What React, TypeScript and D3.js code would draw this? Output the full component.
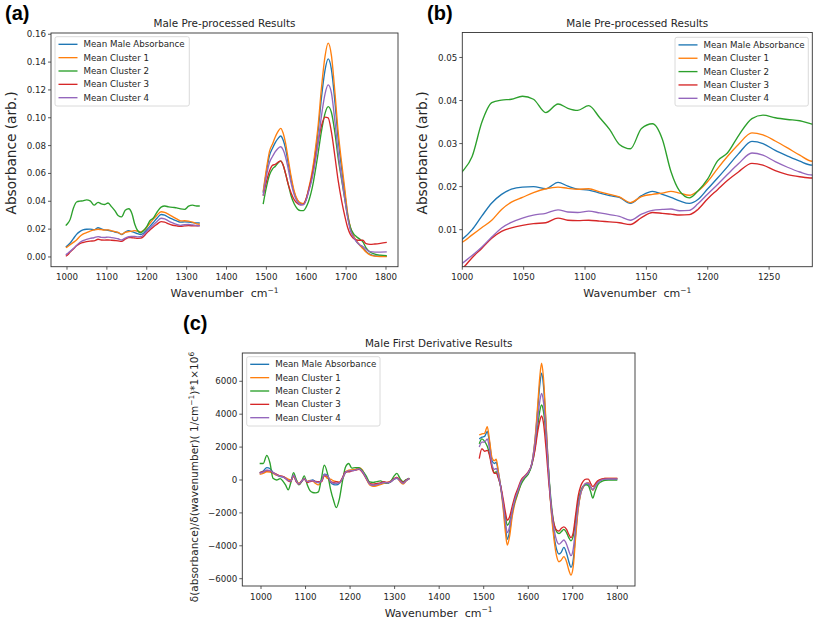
import React from 'react';
import * as d3 from 'd3';

const SERIES = ['Mean Male Absorbance', 'Mean Cluster 1', 'Mean Cluster 2', 'Mean Cluster 3', 'Mean Cluster 4'];
const COLORS = ['#1f77b4', '#ff7f0e', '#2ca02c', '#d62728', '#9467bd'];

// ---------- Pre-processed absorbance, region 1 (fingerprint) ----------
const absWnLow = [997, 1000, 1008, 1016, 1024, 1032, 1040, 1049, 1058, 1068, 1078, 1086, 1094, 1103, 1112, 1120, 1128, 1137, 1146, 1155, 1163, 1170, 1177, 1185, 1192, 1200, 1208, 1216, 1225, 1236, 1245, 1255, 1265, 1275, 1285, 1295, 1305, 1315, 1325, 1333];
const absMeanLow = [0.0072, 0.0078, 0.0100, 0.0132, 0.0162, 0.0182, 0.0194, 0.0199, 0.0200, 0.0195, 0.0210, 0.0201, 0.0194, 0.0192, 0.0185, 0.0179, 0.0175, 0.0161, 0.0179, 0.0189, 0.0182, 0.0175, 0.0167, 0.0161, 0.0170, 0.0195, 0.0220, 0.0246, 0.0276, 0.0305, 0.0300, 0.0284, 0.0271, 0.0259, 0.0250, 0.0252, 0.0251, 0.0247, 0.0245, 0.0244];
const absC1Low = [0.0068, 0.0071, 0.0088, 0.0105, 0.0122, 0.0147, 0.0164, 0.0175, 0.0186, 0.0195, 0.0199, 0.0196, 0.0194, 0.0195, 0.0188, 0.0182, 0.0176, 0.0163, 0.0177, 0.0182, 0.0185, 0.0189, 0.0185, 0.0180, 0.0190, 0.0212, 0.0242, 0.0270, 0.0298, 0.0325, 0.0320, 0.0306, 0.0290, 0.0273, 0.0259, 0.0260, 0.0258, 0.0250, 0.0238, 0.0235];
const absC2Low = [0.0225, 0.0235, 0.0270, 0.0350, 0.0395, 0.0401, 0.0403, 0.0410, 0.0403, 0.0372, 0.0392, 0.0382, 0.0377, 0.0388, 0.0360, 0.0333, 0.0298, 0.0288, 0.0335, 0.0346, 0.0310, 0.0235, 0.0190, 0.0174, 0.0190, 0.0218, 0.0260, 0.0278, 0.0318, 0.0358, 0.0366, 0.0360, 0.0356, 0.0353, 0.0345, 0.0342, 0.0365, 0.0372, 0.0366, 0.0366];
const absC3Low = [0.0005, 0.0010, 0.0035, 0.0057, 0.0080, 0.0096, 0.0104, 0.0110, 0.0114, 0.0116, 0.0127, 0.0122, 0.0121, 0.0122, 0.0120, 0.0118, 0.0116, 0.0112, 0.0128, 0.0140, 0.0138, 0.0136, 0.0134, 0.0135, 0.0147, 0.0172, 0.0193, 0.0214, 0.0234, 0.0254, 0.0250, 0.0237, 0.0228, 0.0223, 0.0220, 0.0223, 0.0225, 0.0224, 0.0223, 0.0225];
const absC4Low = [0.0015, 0.0022, 0.0040, 0.0060, 0.0083, 0.0104, 0.0117, 0.0127, 0.0134, 0.0138, 0.0146, 0.0141, 0.0140, 0.0143, 0.0139, 0.0135, 0.0131, 0.0122, 0.0136, 0.0145, 0.0147, 0.0148, 0.0144, 0.0145, 0.0160, 0.0183, 0.0205, 0.0228, 0.0253, 0.0278, 0.0273, 0.0258, 0.0245, 0.0234, 0.0227, 0.0232, 0.0233, 0.0230, 0.0226, 0.0224];

// ---------- Pre-processed absorbance, region 2 (amide) ----------
const absWnHigh = [1492, 1500, 1508, 1516, 1522, 1529, 1536, 1542, 1548, 1555, 1562, 1570, 1578, 1586, 1593, 1600, 1606, 1612, 1618, 1624, 1630, 1638, 1647, 1655, 1663, 1672, 1680, 1689, 1697, 1704, 1711, 1718, 1726, 1734, 1742, 1750, 1760, 1772, 1786, 1802];
const absMeanHigh = [0.046, 0.061, 0.073, 0.0785, 0.082, 0.085, 0.0869, 0.084, 0.078, 0.067, 0.056, 0.046, 0.0405, 0.0385, 0.0383, 0.0415, 0.048, 0.055, 0.065, 0.077, 0.091, 0.114, 0.134, 0.1423, 0.135, 0.111, 0.085, 0.063, 0.045, 0.030, 0.020, 0.015, 0.011, 0.0085, 0.0065, 0.004, 0.0018, 0.0008, 0.0005, 0.0005];
const absC1High = [0.047, 0.063, 0.076, 0.0816, 0.086, 0.090, 0.0924, 0.089, 0.082, 0.070, 0.058, 0.047, 0.041, 0.0388, 0.0384, 0.042, 0.049, 0.057, 0.067, 0.080, 0.095, 0.121, 0.144, 0.1536, 0.145, 0.118, 0.090, 0.067, 0.048, 0.031, 0.021, 0.0155, 0.0115, 0.0085, 0.006, 0.0035, 0.0015, 0.0006, 0.0003, 0.0002];
const absC2High = [0.038, 0.050, 0.059, 0.0635, 0.065, 0.0675, 0.0689, 0.066, 0.060, 0.052, 0.044, 0.038, 0.0345, 0.0333, 0.0333, 0.036, 0.040, 0.046, 0.054, 0.064, 0.075, 0.090, 0.103, 0.108, 0.104, 0.089, 0.071, 0.055, 0.041, 0.029, 0.021, 0.017, 0.0145, 0.0128, 0.0108, 0.0065, 0.0035, 0.002, 0.0013, 0.001];
const absC3High = [0.044, 0.054, 0.062, 0.066, 0.0665, 0.068, 0.069, 0.066, 0.060, 0.052, 0.046, 0.041, 0.0385, 0.0375, 0.0378, 0.042, 0.048, 0.055, 0.063, 0.073, 0.083, 0.094, 0.1005, 0.100, 0.090, 0.072, 0.055, 0.040, 0.029, 0.021, 0.016, 0.0135, 0.0122, 0.012, 0.012, 0.0095, 0.009, 0.0093, 0.0098, 0.0105];
const absC4High = [0.044, 0.058, 0.068, 0.0725, 0.0755, 0.078, 0.0792, 0.077, 0.072, 0.063, 0.053, 0.0445, 0.0395, 0.0375, 0.0375, 0.041, 0.047, 0.053, 0.061, 0.071, 0.083, 0.101, 0.117, 0.1236, 0.118, 0.097, 0.075, 0.056, 0.041, 0.028, 0.019, 0.0145, 0.011, 0.0088, 0.0075, 0.0055, 0.0038, 0.0035, 0.0035, 0.0036];

// ---------- First derivative, region 1 ----------
const derWnLow = [997, 1005, 1013, 1020, 1027, 1035, 1043, 1050, 1055, 1061, 1067, 1073, 1079, 1085, 1091, 1097, 1104, 1110, 1116, 1122, 1129, 1136, 1142, 1149, 1156, 1163, 1169, 1176, 1183, 1190, 1197, 1204, 1212, 1220, 1228, 1236, 1244, 1252, 1260, 1268, 1276, 1284, 1292, 1299, 1305, 1312, 1319, 1326, 1333];
const derMeanLow = [450, 550, 750, 700, 450, 300, 200, 180, 100, 0, -50, 300, -50, -250, -100, 50, -100, -50, 0, -100, -150, -50, 350, 300, -150, -280, -300, -200, 100, 450, 550, 580, 620, 700, 500, 150, -250, -350, -300, -250, -150, -200, -100, 50, 100, -50, -200, -50, 100];
const derC1Low = [350, 400, 500, 480, 400, 300, 250, 200, 150, 50, 0, 200, 0, -200, -50, 100, -80, -20, -50, -200, -300, 0, 300, 100, 50, -50, -100, -150, 50, 500, 600, 620, 650, 750, 600, 100, -300, -380, -350, -280, -200, -150, -50, 80, 150, -100, -250, -50, 80];
const derC2Low = [1000, 1000, 1500, 1050, 100, 0, 80, -100, -300, -600, -150, 450, 50, -300, -120, 250, -300, -650, -760, -780, -720, 150, 900, 420, -550, -1250, -1680, -1150, -50, 800, 1000, 720, 750, 750, 550, 250, -120, -150, -100, -50, -150, -200, -50, 250, 400, 100, -100, 20, 100];
const derC3Low = [450, 500, 580, 550, 450, 350, 250, 200, 100, -50, -100, 280, -100, -250, -80, 60, -150, -100, -50, -80, -100, -100, 250, 250, -100, -150, -100, -150, 150, 500, 500, 550, 600, 650, 450, 100, -200, -250, -220, -180, -100, -150, -80, 80, 150, 0, -150, 0, 100];
const derC4Low = [400, 480, 600, 580, 450, 320, 230, 180, 100, -20, -60, 300, -50, -250, -80, 80, -100, -60, -30, -120, -150, -50, 320, 280, -80, -200, -200, -180, 100, 480, 550, 560, 600, 680, 500, 120, -250, -320, -280, -220, -150, -180, -80, 60, 120, -50, -200, -30, 100];

// ---------- First derivative, region 2 ----------
const derWnHigh = [1490, 1496, 1502, 1508, 1513, 1519, 1524, 1528, 1533, 1538, 1544, 1549, 1553, 1558, 1564, 1570, 1577, 1584, 1592, 1600, 1608, 1615, 1621, 1626, 1630, 1634, 1640, 1646, 1652, 1658, 1664, 1669, 1674, 1680, 1686, 1691, 1696, 1701, 1706, 1712, 1718, 1724, 1730, 1735, 1740, 1745, 1750, 1756, 1764, 1772, 1780, 1790, 1800];
const derMeanHigh = [2500, 2600, 2650, 2950, 2300, 1150, 1000, 1080, 450, -350, -1600, -2900, -3600, -3150, -2050, -1300, -700, -150, 180, 420, 1000, 2350, 4200, 5800, 6500, 5800, 3300, 400, -1900, -3400, -4250, -4500, -4400, -4100, -4450, -4950, -5300, -4850, -3400, -1750, -800, -400, -250, -250, -450, -600, -400, -150, 0, 50, 60, 60, 60];
const derC1High = [2736, 2800, 2840, 3240, 2430, 1320, 1180, 1260, 500, -400, -1820, -3240, -3950, -3450, -2230, -1420, -810, -200, 160, 400, 1010, 2430, 4460, 6280, 7095, 6280, 3450, 400, -2030, -3650, -4660, -4970, -4870, -4660, -4970, -5470, -5780, -5270, -3650, -1820, -810, -400, -200, -160, -400, -610, -400, -100, 30, 100, 100, 100, 100];
const derC2High = [2200, 2500, 2350, 2050, 1600, 800, 450, 500, 150, -400, -1400, -2300, -2750, -2550, -1900, -1300, -750, -250, 100, 350, 900, 1900, 3200, 4200, 4560, 4200, 2700, 400, -1500, -2700, -3150, -3250, -3150, -3000, -3200, -3500, -3700, -3400, -2500, -1300, -650, -350, -300, -350, -700, -1100, -700, -300, -100, -20, 0, 0, 0];
const derC3High = [1300, 1900, 1750, 1800, 1500, 700, 400, 420, 100, -350, -1200, -2000, -2450, -2250, -1600, -1000, -500, 0, 250, 500, 950, 1800, 2900, 3600, 3890, 3500, 1900, -100, -1700, -2700, -3050, -3100, -2950, -2850, -3000, -3300, -3500, -3200, -2200, -1000, -350, -50, 50, 50, -200, -400, -250, -50, 50, 100, 100, 100, 100];
const derC4High = [2000, 2300, 2300, 2500, 1900, 900, 650, 700, 300, -400, -1500, -2600, -3200, -2850, -1900, -1200, -650, -100, 200, 450, 1000, 2200, 3700, 4800, 5270, 4800, 2900, 300, -1700, -3000, -3700, -3900, -3800, -3650, -3900, -4300, -4600, -4200, -3000, -1600, -750, -350, -200, -200, -400, -600, -400, -150, 0, 50, 60, 60, 60];

// ---------- Ticks ----------
const ticksA_x = [1000, 1100, 1200, 1300, 1400, 1500, 1600, 1700, 1800];
const ticksA_y = [0, 0.02, 0.04, 0.06, 0.08, 0.1, 0.12, 0.14, 0.16];
const ticksB_x = [1000, 1050, 1100, 1150, 1200, 1250];
const ticksB_y = [0.01, 0.02, 0.03, 0.04, 0.05];
const ticksC_x = [1000, 1100, 1200, 1300, 1400, 1500, 1600, 1700, 1800];
const ticksC_y = [-6000, -4000, -2000, 0, 2000, 4000, 6000];

type Segment = { wn: number[]; series: number[][] };

const absSegments: Segment[] = [
  { wn: absWnLow, series: [absMeanLow, absC1Low, absC2Low, absC3Low, absC4Low] },
  { wn: absWnHigh, series: [absMeanHigh, absC1High, absC2High, absC3High, absC4High] },
];
const derSegments: Segment[] = [
  { wn: derWnLow, series: [derMeanLow, derC1Low, derC2Low, derC3Low, derC4Low] },
  { wn: derWnHigh, series: [derMeanHigh, derC1High, derC2High, derC3High, derC4High] },
];

const FONT = 'DejaVu Sans, sans-serif';
const TXT = '#262626';

type PanelProps = {
  id: string;
  box: { l: number; r: number; t: number; b: number };
  xDomain: [number, number];
  yDomain: [number, number];
  xTicks: number[];
  yTicks: number[];
  yFmt: (v: number) => string;
  title: string;
  yLabel: React.ReactNode;
  yLabelX: number;
  yLabelY: number;
  yLabelSize: number;
  xLabelY: number;
  tag: string;
  tagX: number;
  tagY: number;
  segments: Segment[];
  legend: { x: number; y: number; w: number; h: number };
};

function Panel(p: PanelProps) {
  const { box } = p;
  const x = d3.scaleLinear().domain(p.xDomain).range([box.l, box.r]);
  const y = d3.scaleLinear().domain(p.yDomain).range([box.b, box.t]);
  const line = d3
    .line<[number, number]>()
    .x((d) => x(d[0]))
    .y((d) => y(d[1]))
    .curve(d3.curveMonotoneX);
  const cx = (box.l + box.r) / 2;
  const rowH = 13.35;
  return (
    <g>
      <defs>
        <clipPath id={p.id}>
          <rect x={box.l} y={box.t} width={box.r - box.l} height={box.b - box.t} />
        </clipPath>
      </defs>
      <text x={p.tagX} y={p.tagY} fontFamily="Liberation Sans, Arial, sans-serif" fontWeight="bold" fontSize={20} fill="#000">
        {p.tag}
      </text>
      <text x={cx} y={box.t - 6} textAnchor="middle" fontFamily={FONT} fontSize={10.4} fill={TXT}>
        {p.title}
      </text>
      <g clipPath={`url(#${p.id})`}>
        {SERIES.map((s, i) =>
          p.segments.map((seg, k) => (
            <path
              key={`${i}-${k}`}
              d={line(seg.wn.map((w, j) => [w, seg.series[i][j]] as [number, number])) || ''}
              fill="none"
              stroke={COLORS[i]}
              strokeWidth={1.35}
              strokeLinejoin="round"
            />
          ))
        )}
      </g>
      <rect x={box.l} y={box.t} width={box.r - box.l} height={box.b - box.t} fill="none" stroke="#333" strokeWidth={0.9} />
      {p.xTicks.map((t) => (
        <g key={`xt${t}`}>
          <line x1={x(t)} x2={x(t)} y1={box.b} y2={box.b + 3} stroke="#333" strokeWidth={0.8} />
          <text x={x(t)} y={box.b + 13.5} textAnchor="middle" fontFamily={FONT} fontSize={8.7} fill={TXT}>
            {t}
          </text>
        </g>
      ))}
      {p.yTicks.map((t) => (
        <g key={`yt${t}`}>
          <line x1={box.l - 3} x2={box.l} y1={y(t)} y2={y(t)} stroke="#333" strokeWidth={0.8} />
          <text x={box.l - 5} y={y(t)} dy="0.35em" textAnchor="end" fontFamily={FONT} fontSize={8.7} fill={TXT}>
            {p.yFmt(t)}
          </text>
        </g>
      ))}
      <text x={cx} y={p.xLabelY} textAnchor="middle" fontFamily={FONT} fontSize={11} fill={TXT}>
        Wavenumber{'\u00a0\u00a0'}cm
        <tspan dy={-4.5} fontSize={7.5}>
          −1
        </tspan>
      </text>
      <text
        transform={`translate(${p.yLabelX},${p.yLabelY}) rotate(-90)`}
        textAnchor="middle"
        fontFamily={FONT}
        fontSize={p.yLabelSize}
        fill={TXT}
      >
        {p.yLabel}
      </text>
      <g>
        <rect
          x={p.legend.x}
          y={p.legend.y}
          width={p.legend.w}
          height={p.legend.h}
          rx={2}
          fill="#fff"
          fillOpacity={0.85}
          stroke="#d0d0d0"
          strokeWidth={0.8}
        />
        {SERIES.map((s, i) => {
          const ry = p.legend.y + 7.6 + i * rowH;
          return (
            <g key={s}>
              <line x1={p.legend.x + 3.5} x2={p.legend.x + 22.5} y1={ry} y2={ry} stroke={COLORS[i]} strokeWidth={1.35} />
              <text x={p.legend.x + 28.5} y={ry} dy="0.35em" fontFamily={FONT} fontSize={8.7} fill={TXT}>
                {s}
              </text>
            </g>
          );
        })}
      </g>
    </g>
  );
}

const fmt2 = (v: number) => v.toFixed(2);
const fmtInt = (v: number) => (v < 0 ? '−' + Math.abs(v) : String(v));

export default function App() {
  return (
    <svg width={817} height={619} style={{ position: 'absolute', left: 0, top: 0, background: '#fff' }}>
      <rect x={0} y={0} width={817} height={619} fill="#fff" />
      <Panel
        id="clipA"
        box={{ l: 51, r: 398, t: 33, b: 266.7 }}
        xDomain={[959.9, 1830.1]}
        yDomain={[-0.007, 0.1609]}
        xTicks={ticksA_x}
        yTicks={ticksA_y}
        yFmt={fmt2}
        title="Male Pre-processed Results"
        yLabel="Absorbance (arb.)"
        yLabelX={15.5}
        yLabelY={153}
        yLabelSize={13.7}
        xLabelY={297}
        tag="(a)"
        tagX={5}
        tagY={19.5}
        segments={absSegments}
        legend={{ x: 55, y: 36.7, w: 134.3, h: 69.3 }}
      />
      <Panel
        id="clipB"
        box={{ l: 462.3, r: 812.3, t: 32.5, b: 266.7 }}
        xDomain={[1000, 1285.2]}
        yDomain={[0.0014, 0.0558]}
        xTicks={ticksB_x}
        yTicks={ticksB_y}
        yFmt={fmt2}
        title="Male Pre-processed Results"
        yLabel="Absorbance (arb.)"
        yLabelX={427}
        yLabelY={153}
        yLabelSize={13.7}
        xLabelY={297}
        tag="(b)"
        tagX={427}
        tagY={19.5}
        segments={absSegments}
        legend={{ x: 675, y: 37.3, w: 133.3, h: 68.7 }}
      />
      <Panel
        id="clipC"
        box={{ l: 242.3, r: 635, t: 353, b: 586 }}
        xDomain={[958, 1839.7]}
        yDomain={[-6444, 7720]}
        xTicks={ticksC_x}
        yTicks={ticksC_y}
        yFmt={fmtInt}
        title="Male First Derivative Results"
        yLabel={
          <>
            δ(absorbance)/δ(wavenumber)( 1/cm
            <tspan dy={-4} fontSize={7.5}>
              −1
            </tspan>
            <tspan dy={4}>)*1×10</tspan>
            <tspan dy={-4} fontSize={7.5}>
              6
            </tspan>
          </>
        }
        yLabelX={198}
        yLabelY={477}
        yLabelSize={10.5}
        xLabelY={616.5}
        tag="(c)"
        tagX={183}
        tagY={329.5}
        segments={derSegments}
        legend={{ x: 246.7, y: 356.7, w: 133.3, h: 69.3 }}
      />
    </svg>
  );
}
